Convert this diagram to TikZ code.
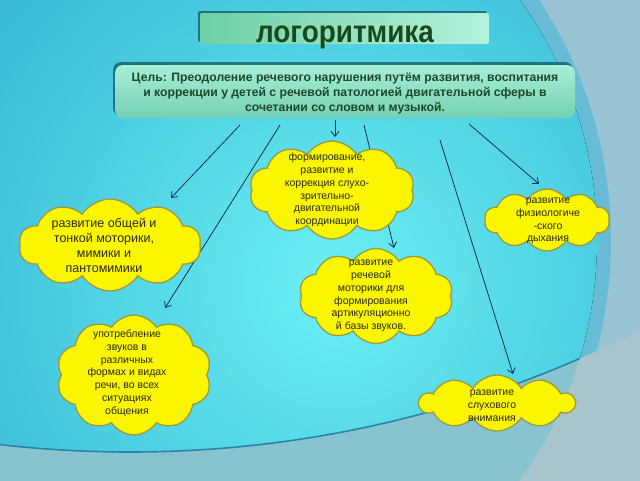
\documentclass[tikz,border=0pt]{standalone}
\usepackage{fontspec}
\setmainfont{Liberation Sans}
\usetikzlibrary{shapes.symbols,arrows.meta}
\definecolor{outsidebg}{HTML}{98C4D4}
\definecolor{bandbg}{HTML}{68BCD6}
\definecolor{bgcenter}{HTML}{6CF0F4}
\definecolor{bgmid}{HTML}{3CBED8}
\definecolor{bgedge}{HTML}{1E86AC}
\definecolor{lowbg}{HTML}{88C4D0}
\definecolor{lowout}{HTML}{A8C4CC}
\definecolor{arcline}{HTML}{2A86A6}
\definecolor{titleL}{HTML}{6ED0A6}
\definecolor{titleR}{HTML}{B4F2DC}
\definecolor{goalT}{HTML}{A8EED8}
\definecolor{goalB}{HTML}{74D0B4}
\definecolor{shadowc}{HTML}{1C6470}
\definecolor{titleink}{HTML}{1A4A1A}
\definecolor{goalink}{HTML}{1C4A28}
\definecolor{cloudfill}{HTML}{FAF500}
\definecolor{cloudline}{HTML}{9C9A40}
\definecolor{cloudink}{HTML}{2A2A1E}
\definecolor{arrowc}{HTML}{123048}
\pgfdeclareradialshading{bgshade}{\pgfpoint{0bp}{0bp}}{color(0bp)=(bgcenter); color(22bp)=(bgmid); color(50bp)=(bgedge)}
\begin{document}
\begin{tikzpicture}[x=1pt,y=-1pt,
  cloudbox/.style={cloud, cloud puffs=10, cloud puff arc=115, draw=cloudline, fill=cloudfill, line width=1.3pt, inner sep=0pt},
  cloudtext/.style={align=center, font=\fontsize{10.5}{12.8}\selectfont, text=cloudink, inner sep=0pt},
  arrowline/.style={draw=arrowc, line width=0.8pt, -{Straight Barb[length=5pt,width=8pt]}},
]
\useasboundingbox (0,0) rectangle (640,480);
% background
\fill[outsidebg] (0,0) rectangle (640,480);
\fill[bandbg] (175,240) circle (436);
\begin{scope}
  \clip (185,240) circle (412);
  \fill[shading=bgshade] (335,285) circle (450);
\end{scope}
\begin{scope}
  \clip (0,300) rectangle (640,480);
  \fill[lowout, even odd rule] (-10,250) rectangle (650,490) (130,-673) circle (1125);
  \begin{scope}
    \clip (185,240) circle (412);
    \fill[lowbg, even odd rule] (-10,250) rectangle (650,490) (130,-673) circle (1125);
    \draw[arcline, line width=1.6pt] (130,-673) circle (1125);
  \end{scope}
\end{scope}
% title
\fill[shadowc, opacity=0.85, rounded corners=2pt] (198,11) rectangle (487,42);
\node[draw=none, rounded corners=2pt, left color=titleL, right color=titleR, minimum width=289pt, minimum height=31pt, inner sep=0pt] (titlebox) at (344.5,28.5) {};
\node[anchor=base, font=\bfseries\fontsize{31}{36}\selectfont, text=titleink, inner sep=0pt] (title) at (345,42) {\scalebox{0.9}[1]{логоритмика}};
% goal
\fill[shadowc, opacity=0.85, rounded corners=8pt] (113,62) rectangle (573,116);
\node[rounded corners=8pt, top color=goalT, bottom color=goalB, minimum width=460pt, minimum height=53pt, inner sep=0pt] (goalbox) at (345,91.5) {};
\node[align=center, font=\bfseries\fontsize{12.2}{15}\selectfont, text=goalink, inner sep=0pt] (goal) at (345,94) {Цель: Преодоление речевого нарушения путём развития, воспитания\\ и коррекции у детей с речевой патологией двигательной сферы в\\ сочетании со словом и музыкой.};
% arrow coordinates
\coordinate (s1) at (240,125); \coordinate (e1) at (171,198);
\coordinate (s2) at (280,125); \coordinate (e2) at (165,308);
\coordinate (s3) at (335,120); \coordinate (e3) at (335,137);
\coordinate (s4) at (364,125); \coordinate (e4) at (394,248);
\coordinate (s5) at (440,140); \coordinate (e5) at (513,374);
\coordinate (s6) at (469,124); \coordinate (e6) at (539,184);
\draw[arrowline] (s1) -- (e1);
\draw[arrowline] (s2) -- (e2);
\draw[arrowline] (s3) -- (e3);
\draw[arrowline] (s4) -- (e4);
\draw[arrowline] (s5) -- (e5);
\draw[arrowline] (s6) -- (e6);
% clouds
\node[cloudbox, minimum width=165pt, minimum height=98pt] (c1) at (332,190) {};
\node[cloudtext] (t1) at (327,190) {формирование,\\развитие и\\коррекция слухо-\\зрительно-\\двигательной\\координации};
\node[cloudbox, minimum width=182pt, minimum height=92pt] (c2) at (110,245) {};
\node[cloudtext, font=\fontsize{12.5}{15}\selectfont] (t2) at (104,245) {развитие общей и\\тонкой моторики,\\мимики и\\пантомимики};
\node[cloudbox, minimum width=125pt, minimum height=62pt] (c3) at (547,220) {};
\node[cloudtext] (t3) at (548,221) {развитие\\физиологиче\\-ского\\дыхания};
\node[cloudbox, minimum width=154pt, minimum height=95pt] (c4) at (376,296) {};
\node[cloudtext] (t4) at (371,296) {развитие\\речевой\\моторики для\\формирования\\артикуляционно\\й базы звуков.};
\node[cloudbox, minimum width=155pt, minimum height=120pt] (c5) at (134,375) {};
\node[cloudtext] (t5) at (127,373) {употребление\\звуков в\\различных\\формах и видах\\речи, во всех\\ситуациях\\общения};
\node[cloudbox, minimum width=155pt, minimum height=56pt] (c6) at (497,403) {};
\node[cloudtext] (t6) at (492,406) {развитие\\слухового\\внимания};
\end{tikzpicture}
\end{document}
